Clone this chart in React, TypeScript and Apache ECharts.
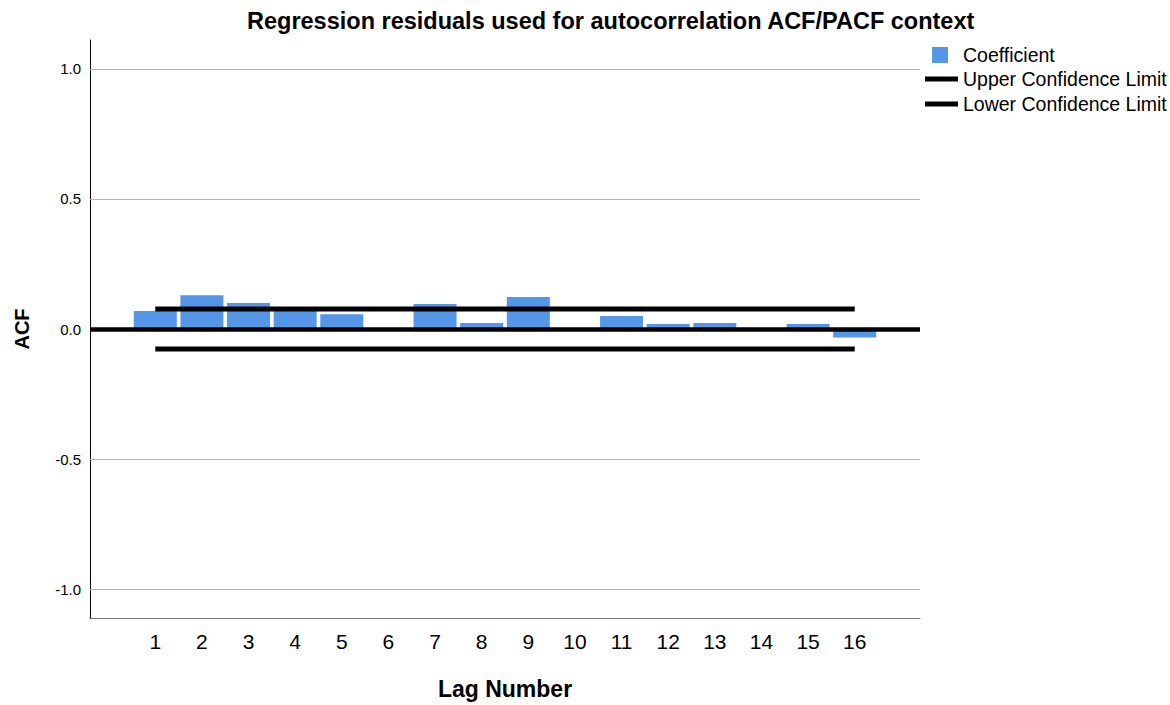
import React, { useEffect, useRef } from "react";
import * as echarts from "echarts";

const LAGS = [1, 2, 3, 4, 5, 6, 7, 8, 9, 10, 11, 12, 13, 14, 15, 16];
const COEFFICIENTS = [0.069, 0.130, 0.100, 0.076, 0.057, 0.0, 0.096, 0.023, 0.123, 0.0, 0.050, 0.019, 0.023, 0.003, 0.019, -0.033];
const UPPER_LIMIT = [0.077, 0.077, 0.077, 0.077, 0.077, 0.077, 0.077, 0.077, 0.077, 0.077, 0.077, 0.077, 0.077, 0.077, 0.077, 0.077];
const LOWER_LIMIT = [-0.077, -0.077, -0.077, -0.077, -0.077, -0.077, -0.077, -0.077, -0.077, -0.077, -0.077, -0.077, -0.077, -0.077, -0.077, -0.077];
const Y_TICKS = [-1.0, -0.5, 0.0, 0.5, 1.0];
const GRID_LINES = [-1.0, -0.5, 0.5, 1.0];

const FONT = "'Liberation Sans', Arial, sans-serif";

export default function App() {
  const ref = useRef<HTMLDivElement>(null);
  useEffect(() => {
    if (!ref.current) return;
    const chart = echarts.init(ref.current, null, { renderer: "svg" });
    chart.setOption({
      animation: false,
      textStyle: { fontFamily: FONT },
      title: {
        text: "Regression residuals used for autocorrelation ACF/PACF context",
        left: 242,
        top: 4,
        textStyle: { fontSize: 23.5, fontWeight: "bold", color: "#000", fontFamily: FONT },
      },
      legend: [
        {
          data: [{ name: "Coefficient", icon: "rect" }],
          left: 927,
          top: 40,
          itemWidth: 16,
          itemHeight: 16,
          textStyle: { fontSize: 19.5, color: "#000", fontFamily: FONT, padding: [0, 0, 0, 10] },
        },
        {
          data: [
            { name: "Upper Confidence Limit", icon: "rect" },
            { name: "Lower Confidence Limit", icon: "rect" },
          ],
          orient: "vertical",
          left: 920,
          top: 64,
          itemWidth: 33,
          itemHeight: 5,
          itemGap: 5,
          textStyle: { fontSize: 19.5, color: "#000", fontFamily: FONT },
        },
      ],
      grid: { left: 90, right: 250, top: 40, bottom: 85, containLabel: false },
      xAxis: {
        type: "value",
        min: -0.4,
        max: 17.4,
        name: "Lag Number",
        nameLocation: "middle",
        nameGap: 59,
        nameTextStyle: { fontSize: 23, fontWeight: "bold", color: "#000", fontFamily: FONT },
        axisLine: { show: true, onZero: false, lineStyle: { color: "#777", width: 1 } },
        axisTick: { show: false },
        splitLine: { show: false },
        axisLabel: {
          customValues: LAGS,
          fontSize: 21,
          color: "#000",
          margin: 13,
          fontFamily: FONT,
        },
      },
      yAxis: {
        type: "value",
        min: -1.111,
        max: 1.111,
        name: "ACF",
        nameLocation: "middle",
        nameGap: 58,
        nameTextStyle: { fontSize: 20, fontWeight: "bold", color: "#000", fontFamily: FONT },
        axisLine: { show: true, onZero: false, lineStyle: { color: "#000", width: 1 } },
        axisTick: { show: false, customValues: Y_TICKS },
        splitLine: { show: false },
        axisLabel: {
          customValues: Y_TICKS,
          fontSize: 15,
          color: "#000",
          margin: 9,
          fontFamily: FONT,
          formatter: (v: number) => v.toFixed(1),
        },
      },
      series: [
        {
          name: "Coefficient",
          type: "bar",
          data: LAGS.map((l, i) => [l, COEFFICIENTS[i]]),
          barWidth: 43,
          itemStyle: { color: "#5596e6" },
          z: 2,
          markLine: {
            silent: true,
            symbol: "none",
            label: { show: false },
            data: [
              ...GRID_LINES.map((v) => ({ yAxis: v, lineStyle: { color: "#b5b5b5", width: 1, type: "solid" } })),
              { yAxis: 0, lineStyle: { color: "#000", width: 4.5, type: "solid" } },
            ],
          },
        },
        {
          name: "Upper Confidence Limit",
          type: "line",
          data: LAGS.map((l, i) => [l, UPPER_LIMIT[i]]),
          symbol: "none",
          lineStyle: { color: "#000", width: 5 },
          itemStyle: { color: "#000" },
          z: 5,
        },
        {
          name: "Lower Confidence Limit",
          type: "line",
          data: LAGS.map((l, i) => [l, LOWER_LIMIT[i]]),
          symbol: "none",
          lineStyle: { color: "#000", width: 5 },
          itemStyle: { color: "#000" },
          z: 5,
        },
      ],
    });
    return () => chart.dispose();
  }, []);
  return <div ref={ref} style={{ width: 1170, height: 705, position: "absolute", left: 0, top: 0 }} />;
}
